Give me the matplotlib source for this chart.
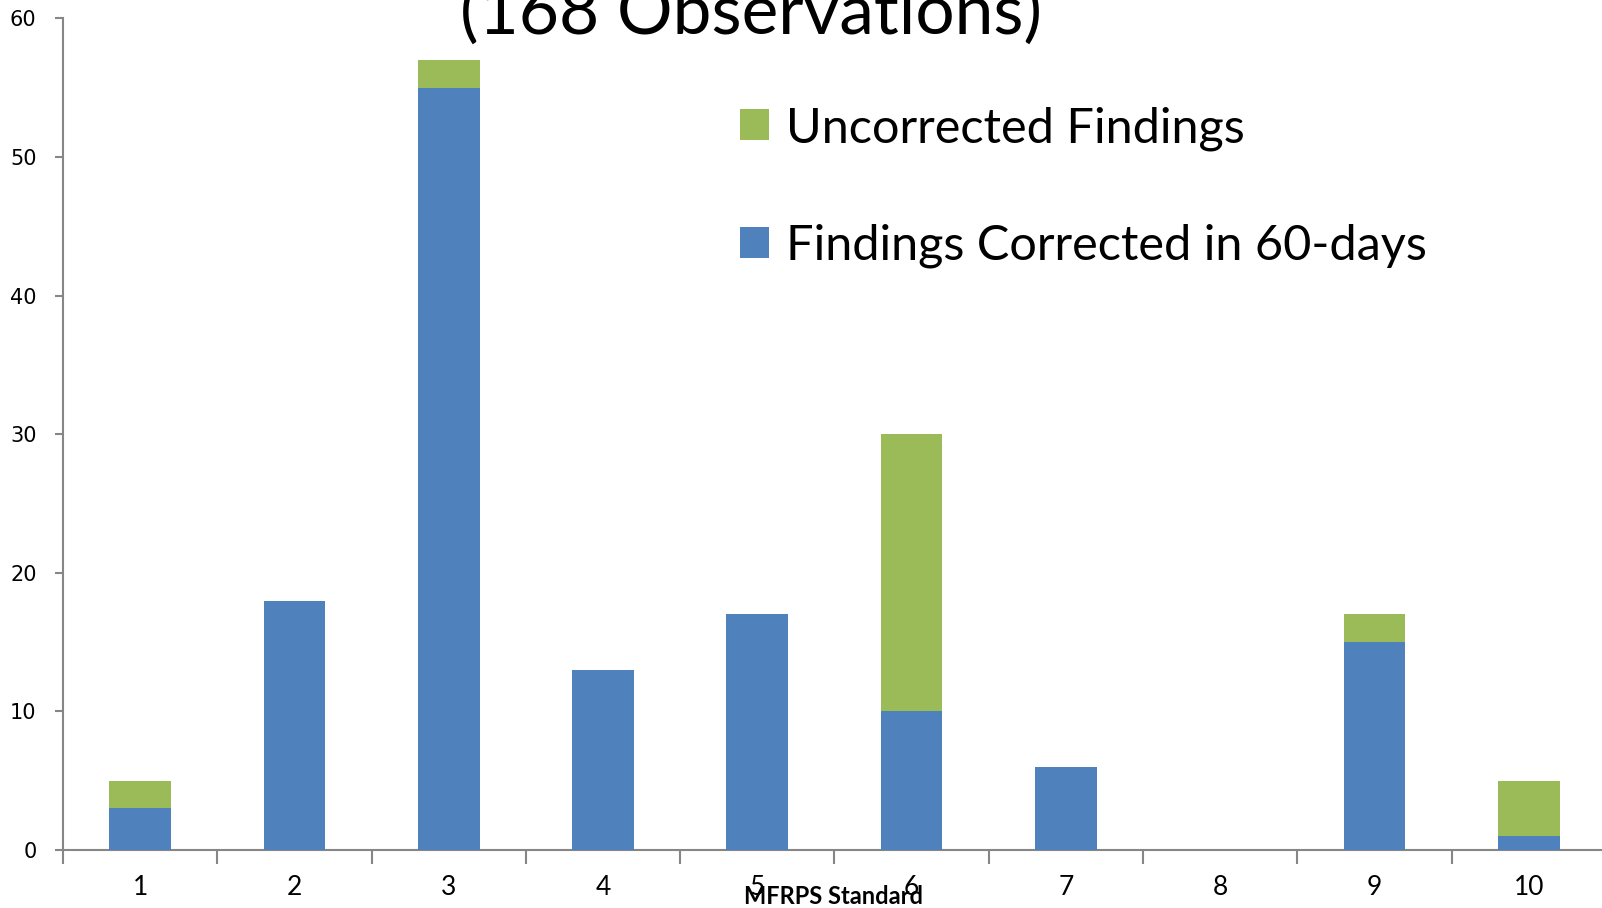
import numpy as np
import matplotlib.pyplot as plt
from matplotlib.patches import Patch

# MFRPS findings by standard
standards = ["1", "2", "3", "4", "5", "6", "7", "8", "9", "10"]
corrected_60_days = [3, 18, 55, 13, 17, 10, 6, 0, 15, 1]
uncorrected = [2, 0, 2, 0, 0, 20, 0, 0, 2, 4]
y_ticks = [0, 10, 20, 30, 40, 50, 60]

blue = "#4F81BD"
green = "#9BBB59"
axis_gray = "#868686"
text_font = ["Lato", "DejaVu Sans"]

fig = plt.figure(figsize=(16.02, 9.08), dpi=100)
ax = fig.add_axes([0.0393, 0.0639, 0.9632, 0.9158])

x = np.arange(len(standards))
ax.bar(x, corrected_60_days, width=0.4, color=blue, zorder=3)
ax.bar(x, uncorrected, width=0.4, bottom=corrected_60_days, color=green, zorder=3)

ax.set_xlim(-0.5, len(standards) - 0.5)
ax.set_ylim(0, 60)

for side in ("top", "right"):
    ax.spines[side].set_visible(False)
for side in ("left", "bottom"):
    ax.spines[side].set_color(axis_gray)
    ax.spines[side].set_linewidth(1.5)

ax.set_yticks(y_ticks)
ax.set_yticklabels([str(v) for v in y_ticks], fontsize=15, family="DejaVu Sans")
ax.tick_params(axis="y", direction="out", length=6, width=1.5, color=axis_gray, pad=13)

# category boundaries get the tick marks, labels sit at the centres
ax.set_xticks(np.arange(len(standards) + 1) - 0.5)
ax.set_xticklabels([])
ax.tick_params(axis="x", which="major", direction="out", length=10, width=1.5, color=axis_gray)
ax.set_xticks(x, minor=True)
ax.set_xticklabels(standards, minor=True, fontsize=19, family=text_font)
ax.tick_params(axis="x", which="minor", length=0, pad=18)

fig.text(0.52, 0.0, "MFRPS Standard", ha="center", va="bottom",
         fontsize=17, fontweight="bold", family=text_font)

fig.text(0.469, 0.963, "(168 Observations)", ha="center", va="baseline",
         fontsize=50, family=text_font)

handles = [
    Patch(facecolor=green, label="Uncorrected Findings"),
    Patch(facecolor=blue, label="Findings Corrected in 60-days"),
]
ax.legend(handles=handles, loc="upper left", bbox_to_anchor=(0.426, 0.918),
          frameon=False, prop={"family": text_font, "size": 35},
          handlelength=0.6, handleheight=0.6, handletextpad=0.35,
          labelspacing=1.5, borderaxespad=0)

fig.savefig("out.png", dpi=100)
